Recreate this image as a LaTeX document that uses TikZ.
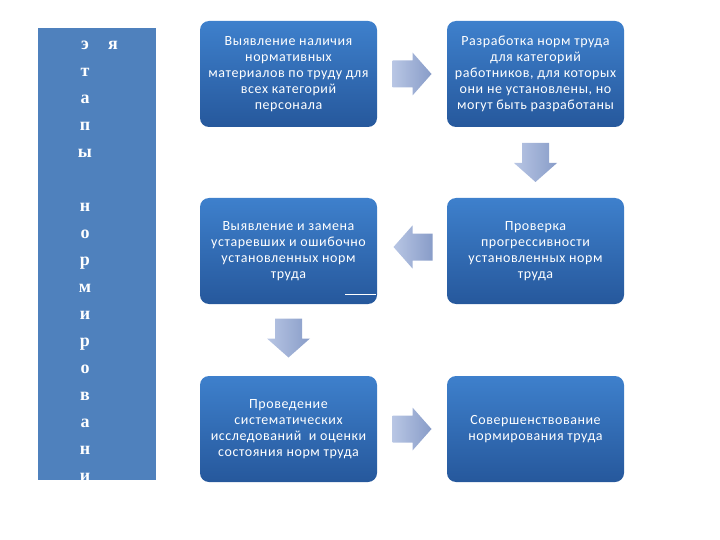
\documentclass[tikz,border=0pt]{standalone}
\usepackage{fontspec}
\setmainfont{Carlito}[LetterSpace=4]
\newfontfamily\barfont{Liberation Serif}
\usetikzlibrary{calc}
\usepackage{xcolor}
\definecolor{barblue}{RGB}{79,129,189}
\definecolor{boxtop}{RGB}{62,128,204}
\definecolor{boxbot}{RGB}{38,88,156}
\definecolor{arrlight}{RGB}{184,198,228}
\definecolor{arrdark}{RGB}{136,156,200}
\newcommand{\bigarrow}[2]{% centre, angle: block arrow 39x43
  \begin{scope}[shift={#1},rotate=#2]
    \shade[left color=arrlight,right color=arrdark] (-19.5,-13.5) -- (0.5,-13.5) -- (0.5,-21.5)
      -- (19.5,0) -- (0.5,21.5) -- (0.5,13.5) -- (-19.5,13.5) -- cycle;
  \end{scope}
}

\begin{document}
\begin{tikzpicture}[x=1pt,y=-1pt,
  stage/.style={rounded corners=9pt,top color=boxtop,bottom color=boxbot,
    minimum width=177pt,minimum height=106pt,inner sep=0pt,text=white,
    align=center,font=\fontsize{14}{16}\selectfont},
  letter/.style={text=white,anchor=mid,font=\barfont\bfseries\fontsize{18}{18}\selectfont}]
  \useasboundingbox (0,0) rectangle (720,540);
  % left bar
  \node[fill=barblue,minimum width=118pt,minimum height=452pt,inner sep=0pt] (bar) at (97,254) {};
  \begin{scope}
    \clip (bar.south west) rectangle (bar.north east);
    \foreach \ch [count=\i from 0] in {э,т,а,п,ы,{},н,о,р,м,и,р,о,в,а,н,и}
      \node[letter] (l\i) at (85,47+\i*27) {\ch};
    \node[letter] (ya) at (113,47) {я};
  \end{scope}
  % stages
  \node[stage] (b1) at (288.5,74) {Выявление наличия\\нормативных\\материалов по труду для\\всех категорий\\персонала};
  \node[stage] (b2) at (535.5,74) {Разработка норм труда\\для категорий\\работников, для которых\\они не установлены, но\\могут быть разработаны};
  \node[stage] (b3) at (288.5,251) {Выявление и замена\\устаревших и ошибочно\\установленных норм\\труда};
  \node[stage] (b4) at (535.5,251) {Проверка\\прогрессивности\\установленных норм\\труда};
  \node[stage] (b5) at (288.5,429) {Проведение\\систематических\\исследований\ \ и оценки\\состояния норм труда};
  \node[stage] (b6) at (535.5,429) {Совершенствование\\нормирования труда};
  \draw[white,line width=1pt] ($(b3.south east)+(-32,-10)$) -- ($(b3.south east)+(-1,-10)$);
  % arrows between stages
  \bigarrow{($(b1.east)!0.5!(b2.west)$)}{0}
  \bigarrow{($(b2.south)!0.5!(b4.north)$)}{-90}
  \bigarrow{($(b4.west)!0.5!(b3.east)+(1,-4)$)}{180}
  \bigarrow{($(b3.south)!0.5!(b5.north)+(0,-2)$)}{-90}
  \bigarrow{($(b5.east)!0.5!(b6.west)$)}{0}
\end{tikzpicture}
\end{document}
